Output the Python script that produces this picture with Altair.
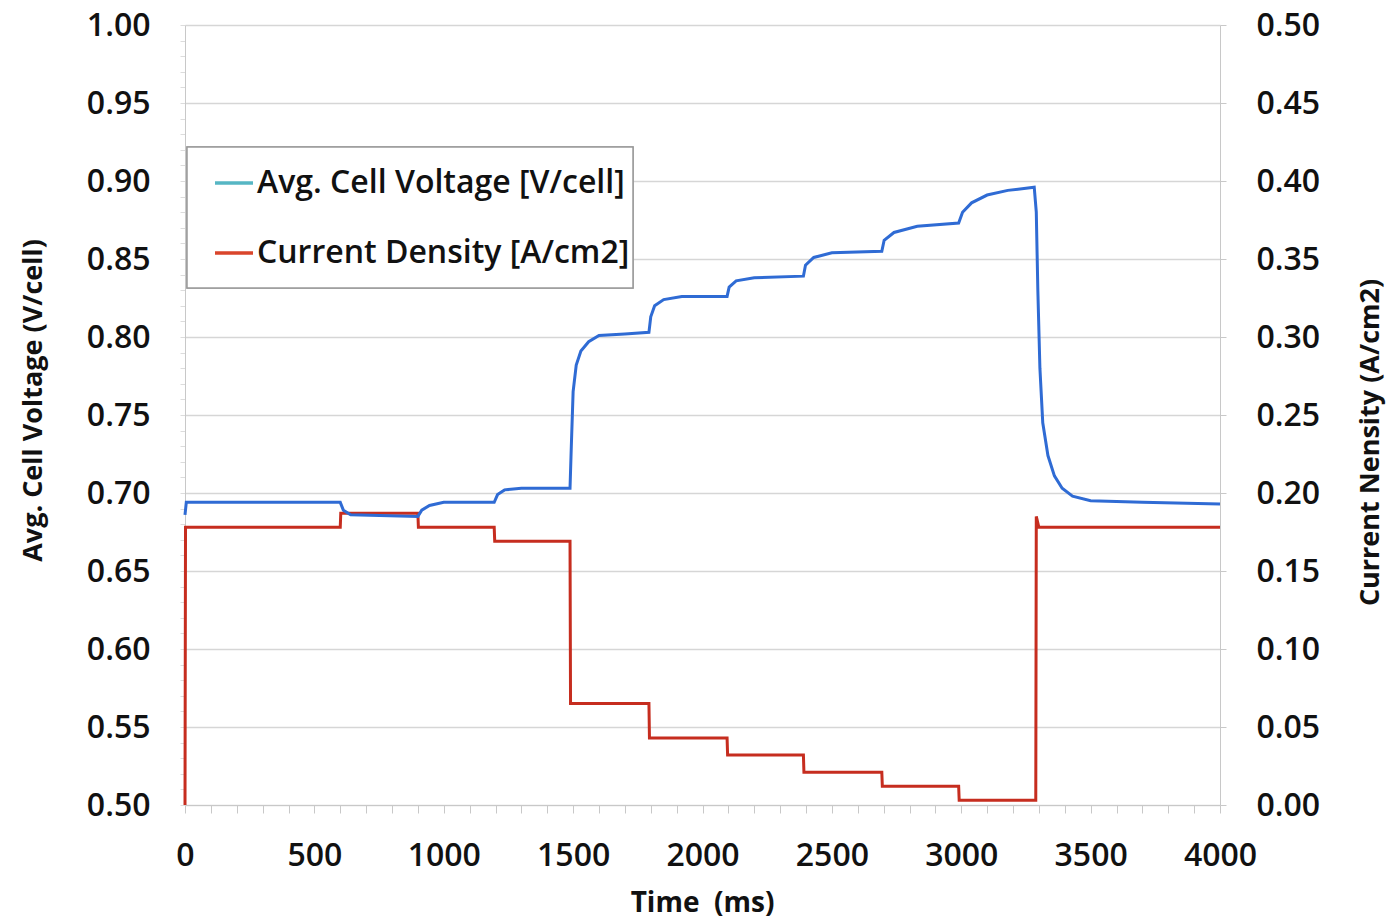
import altair as alt
import pandas as pd

# --- data ---
volt_t = [0, 5, 600, 612, 640, 900, 915, 945, 1000, 1195, 1208, 1235, 1300, 1488,
          1493, 1500, 1512, 1530, 1560, 1600, 1700, 1793, 1800, 1815, 1850, 1920,
          2095, 2103, 2130, 2200, 2390, 2398, 2430, 2500, 2693, 2702, 2740, 2830,
          2990, 3005, 3040, 3100, 3180, 3282, 3290, 3296, 3304, 3315, 3335, 3360,
          3390, 3430, 3500, 3700, 4000]
volt_v = [0.686, 0.694, 0.694, 0.689, 0.686, 0.685, 0.689, 0.692, 0.694, 0.694, 0.699,
          0.702, 0.703, 0.703, 0.730, 0.765, 0.782, 0.791, 0.797, 0.801, 0.802, 0.803,
          0.813, 0.820, 0.824, 0.826, 0.826, 0.832, 0.836, 0.838, 0.839, 0.846, 0.851,
          0.854, 0.855, 0.862, 0.867, 0.871, 0.873, 0.880, 0.886, 0.891, 0.894, 0.896,
          0.880, 0.830, 0.780, 0.745, 0.724, 0.711, 0.703, 0.698, 0.695, 0.694, 0.693]

curr_t = [0, 2, 600, 602, 900, 902, 1195, 1197, 1488, 1490, 1793, 1795, 2095, 2097,
          2390, 2392, 2693, 2695, 2990, 2992, 3288, 3290, 3300, 4000]
curr_v = [0.000, 0.178, 0.178, 0.187, 0.187, 0.178, 0.178, 0.169, 0.169, 0.065,
          0.065, 0.043, 0.043, 0.032, 0.032, 0.021, 0.021, 0.012, 0.012, 0.003,
          0.003, 0.185, 0.178, 0.178]

legend_labels = ["Avg. Cell Voltage [V/cell]", "Current Density [A/cm2]"]
x_ticks = list(range(0, 4001, 100))
left_ticks = [round(0.50 + 0.01 * i, 2) for i in range(51)]
right_ticks = [round(0.05 * i, 2) for i in range(11)]

volt_df = pd.DataFrame({"t": volt_t, "v": volt_v, "i": range(len(volt_t))})
curr_df = pd.DataFrame({"t": curr_t, "c": curr_v, "i": range(len(curr_t))})

FONT = "Open Sans"
W, H = 1035, 780

x_enc = alt.X("t:Q", scale=alt.Scale(domain=[0, 4000], nice=False),
              axis=alt.Axis(values=x_ticks, title="Time\u00a0 (ms)", format="d",
                            labelExpr="datum.value % 500 == 0 ? datum.label : ''",
                            labelOverlap=False,
                            grid=False, tickSize=8, tickColor="#c8c8c8",
                            domainColor="#c8c8c8", labelFontSize=32, labelFont=FONT,
                            labelFontWeight=600,
                            labelColor="#111", labelPadding=27, labelFlush=False,
                            titleFont=FONT, titleFontSize=28, titleFontWeight="bold",
                            titleColor="#111", titleX=517, titleY=98,
                            titleAlign="center", titleBaseline="middle"))

volt = alt.Chart(volt_df).mark_line(color="#2f6bd4", strokeWidth=3).encode(
    x=x_enc,
    y=alt.Y("v:Q", scale=alt.Scale(domain=[0.5, 1.0], nice=False, zero=False),
            axis=alt.Axis(values=left_ticks, format=".2f", title="Avg. Cell Voltage (V/cell)",
                          labelExpr="round(datum.value*100) % 5 == 0 ? datum.label : ''",
                          labelOverlap=False,
                          grid=False, tickSize=5, tickColor="#dcdcdc",
                          domainColor="#c8c8c8", labelFontSize=32, labelFont=FONT,
                          labelFontWeight=600,
                          labelColor="#111", labelPadding=30,
                          titleFont=FONT, titleFontSize=27, titleFontWeight="bold",
                          titleColor="#111", titleX=-152, titleY=375, titleAngle=-90,
                          titleAlign="center", titleBaseline="middle")),
    order="i:Q",
)

curr = alt.Chart(curr_df).mark_line(color="#c62d1f", strokeWidth=3).encode(
    x=x_enc,
    y=alt.Y("c:Q", scale=alt.Scale(domain=[0, 0.5], nice=False),
            axis=alt.Axis(orient="right", values=right_ticks, format=".2f",
                          title="Current Nensity (A/cm2)",
                          grid=True, gridColor="#d6d6d6", gridWidth=1.5,
                          tickSize=6, tickColor="#c8c8c8",
                          domainColor="#c8c8c8", labelFontSize=32, labelFont=FONT,
                          labelFontWeight=600,
                          labelColor="#111", labelPadding=30,
                          titleFont=FONT, titleFontSize=27, titleFontWeight="bold",
                          titleColor="#111", titleX=150, titleY=417, titleAngle=-90,
                          titleAlign="center", titleBaseline="middle")),
    order="i:Q",
)

leg_df = pd.DataFrame({"label": legend_labels})
box = alt.Chart(leg_df).mark_rect(fill="white", stroke="#9a9a9a", strokeWidth=1.5).encode(
    x=alt.value(2), x2=alt.value(448), y=alt.value(122), y2=alt.value(263))
sw1 = alt.Chart(leg_df).mark_rule(color="#56b6c4", strokeWidth=3).encode(
    x=alt.value(30), x2=alt.value(68), y=alt.value(158))
sw2 = alt.Chart(leg_df).mark_rule(color="#d9452b", strokeWidth=3).encode(
    x=alt.value(30), x2=alt.value(68), y=alt.value(228))
t1 = alt.Chart(pd.DataFrame({"label": [legend_labels[0]]})).mark_text(
    align="left", baseline="middle", font=FONT, fontSize=32, fontWeight=600, color="#111").encode(
    x=alt.value(72), y=alt.value(158), text="label:N")
t2 = alt.Chart(pd.DataFrame({"label": [legend_labels[1]]})).mark_text(
    align="left", baseline="middle", font=FONT, fontSize=32, fontWeight=600, color="#111").encode(
    x=alt.value(72), y=alt.value(228), text="label:N")

chart = alt.layer(curr, volt, box, sw1, sw2, t1, t2).resolve_scale(y="independent").properties(
    width=W, height=H,
    autosize=alt.AutoSizeParams(type="none"),
    padding={"left": 185, "top": 25, "right": 173, "bottom": 118},
    background="white",
).configure_view(strokeWidth=0)

chart.save("out.html", embed_options={"renderer": "svg", "actions": False})
